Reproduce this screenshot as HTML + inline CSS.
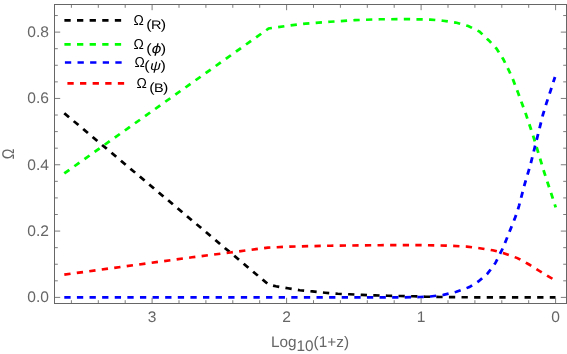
<!DOCTYPE html>
<html><head><meta charset="utf-8"><title>Omega plot</title>
<style>
html,body{margin:0;padding:0;background:#fff;}
svg{display:block;will-change:transform;}
text{font-family:"Liberation Sans",sans-serif;fill:#666;text-rendering:geometricPrecision;}
.lg text{fill:#000;}
.curve path,.curve line{fill:none;stroke-width:2.65;stroke-dasharray:5.976 5.976;}
</style></head>
<body>
<svg width="567" height="354" viewBox="0 0 567 354">
<rect width="567" height="354" fill="#fff"/>
<g class="curve" transform="scale(1.055,1)">
<path d="M60.95,113.20 L254.31,284.40 L261.52,286.30 L272.80,288.30 L284.08,290.20 L296.11,291.40 L308.06,292.70 L320.19,293.80 L331.28,294.30 L343.32,294.90 L355.45,295.40 L367.39,295.70 L379.43,296.00 L391.47,296.30 L403.51,296.70 L417.06,297.00 L445.50,297.30 L526.54,297.40" stroke="#000"/>
<path d="M60.95,173.40 L254.60,28.50 L275.36,25.40 L289.67,23.60 L312.80,21.80 L336.49,20.10 L360.19,19.30 L384.27,19.10 L408.06,19.60 L419.91,20.70 L431.94,22.60 L443.79,26.00 L454.50,31.60 L463.13,40.20 L470.62,48.60 L477.06,59.20 L482.37,70.50 L486.07,79.10 L491.00,92.60 L498.48,114.10 L505.97,137.80 L508.63,147.20 L515.64,171.60 L521.99,192.00 L526.73,207.30" stroke="#00ff00"/>
<path d="M60.95,297.40 L379.15,297.40 L398.10,297.00 L407.96,296.50 L420.28,294.90 L432.61,291.80 L444.93,287.10 L453.46,281.40 L462.09,273.60 L469.48,263.20 L476.87,247.70 L484.27,228.20 L487.77,219.10 L490.43,211.30 L492.04,205.50 L497.35,184.10 L502.75,164.90 L507.01,146.80 L511.28,128.80 L514.50,115.20 L517.73,103.90 L521.99,90.30 L526.07,77.00" stroke="#0000ff"/>
<path d="M60.95,274.60 L181.99,257.30 L218.20,252.50 L253.93,247.60 L274.88,246.60 L313.46,245.70 L360.19,245.20 L398.10,245.10 L422.75,245.60 L442.46,246.60 L454.69,248.20 L467.01,250.30 L476.87,252.90 L490.43,258.10 L501.52,264.50 L511.37,271.00 L523.70,278.80 L526.64,280.80" stroke="#ff0000"/>
<line x1="61.04" y1="20.35" x2="115.17" y2="20.35" stroke="#000"/>
<line x1="61.04" y1="44.4" x2="115.17" y2="44.4" stroke="#00ff00"/>
<line x1="61.52" y1="62.45" x2="115.92" y2="62.45" stroke="#0000ff"/>
<line x1="63.89" y1="83.3" x2="117.82" y2="83.3" stroke="#ff0000"/>
</g>
<g stroke="#666" stroke-width="0.85" fill="none">
<line x1="555.60" y1="303.5" x2="555.60" y2="297.8"/>
<line x1="555.60" y1="4.5" x2="555.60" y2="10.2"/>
<line x1="528.70" y1="303.5" x2="528.70" y2="300.2"/>
<line x1="528.70" y1="4.5" x2="528.70" y2="7.8"/>
<line x1="501.80" y1="303.5" x2="501.80" y2="300.2"/>
<line x1="501.80" y1="4.5" x2="501.80" y2="7.8"/>
<line x1="474.90" y1="303.5" x2="474.90" y2="300.2"/>
<line x1="474.90" y1="4.5" x2="474.90" y2="7.8"/>
<line x1="448.00" y1="303.5" x2="448.00" y2="300.2"/>
<line x1="448.00" y1="4.5" x2="448.00" y2="7.8"/>
<line x1="421.10" y1="303.5" x2="421.10" y2="297.8"/>
<line x1="421.10" y1="4.5" x2="421.10" y2="10.2"/>
<line x1="394.20" y1="303.5" x2="394.20" y2="300.2"/>
<line x1="394.20" y1="4.5" x2="394.20" y2="7.8"/>
<line x1="367.30" y1="303.5" x2="367.30" y2="300.2"/>
<line x1="367.30" y1="4.5" x2="367.30" y2="7.8"/>
<line x1="340.40" y1="303.5" x2="340.40" y2="300.2"/>
<line x1="340.40" y1="4.5" x2="340.40" y2="7.8"/>
<line x1="313.50" y1="303.5" x2="313.50" y2="300.2"/>
<line x1="313.50" y1="4.5" x2="313.50" y2="7.8"/>
<line x1="286.60" y1="303.5" x2="286.60" y2="297.8"/>
<line x1="286.60" y1="4.5" x2="286.60" y2="10.2"/>
<line x1="259.70" y1="303.5" x2="259.70" y2="300.2"/>
<line x1="259.70" y1="4.5" x2="259.70" y2="7.8"/>
<line x1="232.80" y1="303.5" x2="232.80" y2="300.2"/>
<line x1="232.80" y1="4.5" x2="232.80" y2="7.8"/>
<line x1="205.90" y1="303.5" x2="205.90" y2="300.2"/>
<line x1="205.90" y1="4.5" x2="205.90" y2="7.8"/>
<line x1="179.00" y1="303.5" x2="179.00" y2="300.2"/>
<line x1="179.00" y1="4.5" x2="179.00" y2="7.8"/>
<line x1="152.10" y1="303.5" x2="152.10" y2="297.8"/>
<line x1="152.10" y1="4.5" x2="152.10" y2="10.2"/>
<line x1="125.20" y1="303.5" x2="125.20" y2="300.2"/>
<line x1="125.20" y1="4.5" x2="125.20" y2="7.8"/>
<line x1="98.30" y1="303.5" x2="98.30" y2="300.2"/>
<line x1="98.30" y1="4.5" x2="98.30" y2="7.8"/>
<line x1="71.40" y1="303.5" x2="71.40" y2="300.2"/>
<line x1="71.40" y1="4.5" x2="71.40" y2="7.8"/>
<line x1="54.5" y1="297.40" x2="60.2" y2="297.40"/>
<line x1="566.5" y1="297.40" x2="560.8" y2="297.40"/>
<line x1="54.5" y1="280.82" x2="57.8" y2="280.82"/>
<line x1="566.5" y1="280.82" x2="563.2" y2="280.82"/>
<line x1="54.5" y1="264.24" x2="57.8" y2="264.24"/>
<line x1="566.5" y1="264.24" x2="563.2" y2="264.24"/>
<line x1="54.5" y1="247.66" x2="57.8" y2="247.66"/>
<line x1="566.5" y1="247.66" x2="563.2" y2="247.66"/>
<line x1="54.5" y1="231.08" x2="60.2" y2="231.08"/>
<line x1="566.5" y1="231.08" x2="560.8" y2="231.08"/>
<line x1="54.5" y1="214.50" x2="57.8" y2="214.50"/>
<line x1="566.5" y1="214.50" x2="563.2" y2="214.50"/>
<line x1="54.5" y1="197.92" x2="57.8" y2="197.92"/>
<line x1="566.5" y1="197.92" x2="563.2" y2="197.92"/>
<line x1="54.5" y1="181.34" x2="57.8" y2="181.34"/>
<line x1="566.5" y1="181.34" x2="563.2" y2="181.34"/>
<line x1="54.5" y1="164.76" x2="60.2" y2="164.76"/>
<line x1="566.5" y1="164.76" x2="560.8" y2="164.76"/>
<line x1="54.5" y1="148.18" x2="57.8" y2="148.18"/>
<line x1="566.5" y1="148.18" x2="563.2" y2="148.18"/>
<line x1="54.5" y1="131.60" x2="57.8" y2="131.60"/>
<line x1="566.5" y1="131.60" x2="563.2" y2="131.60"/>
<line x1="54.5" y1="115.02" x2="57.8" y2="115.02"/>
<line x1="566.5" y1="115.02" x2="563.2" y2="115.02"/>
<line x1="54.5" y1="98.44" x2="60.2" y2="98.44"/>
<line x1="566.5" y1="98.44" x2="560.8" y2="98.44"/>
<line x1="54.5" y1="81.86" x2="57.8" y2="81.86"/>
<line x1="566.5" y1="81.86" x2="563.2" y2="81.86"/>
<line x1="54.5" y1="65.28" x2="57.8" y2="65.28"/>
<line x1="566.5" y1="65.28" x2="563.2" y2="65.28"/>
<line x1="54.5" y1="48.70" x2="57.8" y2="48.70"/>
<line x1="566.5" y1="48.70" x2="563.2" y2="48.70"/>
<line x1="54.5" y1="32.12" x2="60.2" y2="32.12"/>
<line x1="566.5" y1="32.12" x2="560.8" y2="32.12"/>
<line x1="54.5" y1="15.54" x2="57.8" y2="15.54"/>
<line x1="566.5" y1="15.54" x2="563.2" y2="15.54"/>
<rect x="54.5" y="4.5" width="512.0" height="299.0" stroke-width="1"/>
</g>
<g class="tl">
<text transform="translate(555.70,321.80) scale(1.02,1)" text-anchor="middle" font-size="15.3">0</text>
<text transform="translate(421.20,321.80) scale(1.02,1)" text-anchor="middle" font-size="15.3">1</text>
<text transform="translate(286.70,321.80) scale(1.02,1)" text-anchor="middle" font-size="15.3">2</text>
<text transform="translate(152.20,321.80) scale(1.02,1)" text-anchor="middle" font-size="15.3">3</text>
<text transform="translate(49.00,302.35) scale(1.02,1)" text-anchor="end" font-size="15.3">0.0</text>
<text transform="translate(49.00,236.03) scale(1.02,1)" text-anchor="end" font-size="15.3">0.2</text>
<text transform="translate(49.00,169.71) scale(1.02,1)" text-anchor="end" font-size="15.3">0.4</text>
<text transform="translate(49.00,103.39) scale(1.02,1)" text-anchor="end" font-size="15.3">0.6</text>
<text transform="translate(49.00,37.07) scale(1.02,1)" text-anchor="end" font-size="15.3">0.8</text>
</g>
<text transform="translate(13.7,153.85) rotate(-90) scale(0.95,1.135)" text-anchor="middle" font-size="15">Ω</text>
<text transform="translate(270.9,347.05) scale(1.004,1)" font-size="15.3">Log<tspan dy="4.2">10</tspan><tspan dy="-4.2">(1+z)</tspan></text>
<g class="lg">
<text transform="translate(133.5,24.9) scale(0.965,1)" font-size="14.3">Ω</text><text transform="translate(146.3,28.80) scale(1.18,1)" font-size="13.6">(<tspan dx="-0.6" font-size="12.3">R</tspan><tspan dx="-0.6">)</tspan></text>
<text transform="translate(133.5,49.0) scale(0.965,1)" font-size="14.3">Ω</text><text transform="translate(146.3,52.90) scale(1.18,1)" font-size="13.6">(<tspan dx="-0.2" font-family="DejaVu Sans" font-style="oblique" font-size="13">ϕ</tspan><tspan dx="-0.6">)</tspan></text>
<text transform="translate(134.6,66.9) scale(0.965,1)" font-size="14.3">Ω</text><text transform="translate(144.3,70.40) scale(1.18,1)" font-size="13.6">(<tspan dx="0.3" font-style="italic" font-size="12.8">ψ</tspan><tspan dx="-0.5">)</tspan></text>
<text transform="translate(136.5,87.8) scale(0.965,1)" font-size="14.3">Ω</text><text transform="translate(149.3,91.70) scale(1.18,1)" font-size="13.6">(<tspan dx="-0.6" font-size="12.3">B</tspan><tspan dx="-0.6">)</tspan></text>
</g>
</svg>
</body></html>
